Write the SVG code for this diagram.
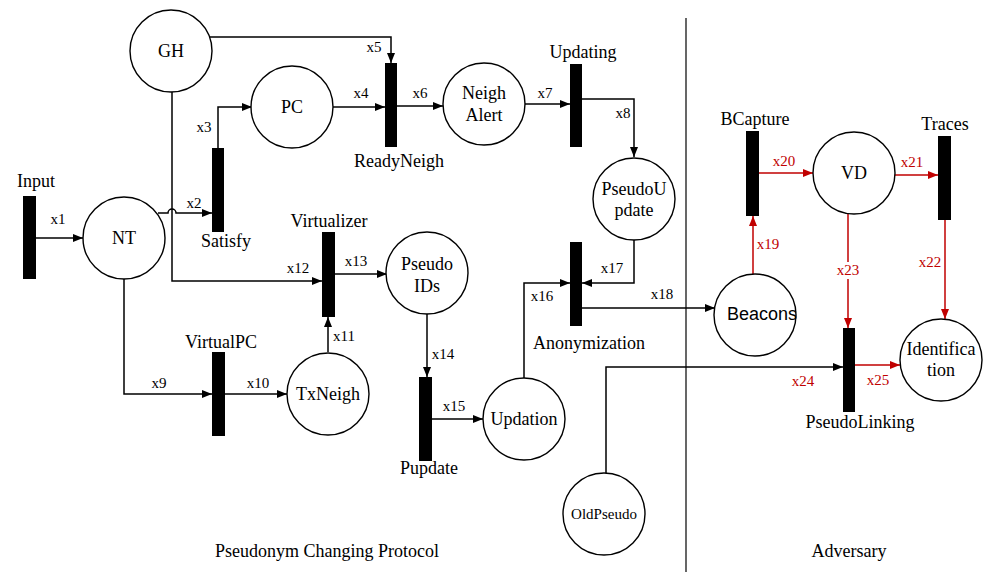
<svg xmlns="http://www.w3.org/2000/svg" width="984" height="572" viewBox="0 0 984 572">
  <style>
    .place { fill: #ffffff; stroke: #000000; stroke-width: 1.4; }
    .bar { fill: #000000; stroke: none; }
    .t { font-family: "Liberation Serif", "Times New Roman", serif; font-size: 18px; fill: #000000; text-anchor: middle; }
    .sans { font-family: "Liberation Sans", Arial, sans-serif; }
    .small { font-size: 15px; }
    .lab { font-family: "Liberation Serif", "Times New Roman", serif; font-size: 15px; fill: #000000; text-anchor: middle; }
    .red { fill: #c00000; }
    .arc { fill: none; stroke: #000000; stroke-width: 1.5; }
    .arc.r { stroke: #c00000; }
  </style>
  <defs>
    <marker id="ah" markerUnits="userSpaceOnUse" markerWidth="10" markerHeight="8" refX="10" refY="4" orient="auto">
      <path d="M0,0 L10,4 L0,8 z" fill="#000000"/>
    </marker>
    <marker id="ahr" markerUnits="userSpaceOnUse" markerWidth="10" markerHeight="8" refX="10" refY="4" orient="auto">
      <path d="M0,0 L10,4 L0,8 z" fill="#c00000"/>
    </marker>
  </defs>
  <rect width="984" height="572" fill="#ffffff"/>

  <!-- divider between protocol and adversary -->
  <line x1="686" y1="18" x2="686" y2="572" stroke="#000000" stroke-width="1.2"/>

  <!-- connectors -->
  <g id="connectors">
    <path class="arc" d="M36,238 H83" marker-end="url(#ah)"/>
    <path class="arc" d="M158,213 H168 A4,4 0 0 1 176,213 H212" marker-end="url(#ah)"/>
    <path class="arc" d="M218,148 V107 H252" marker-end="url(#ah)"/>
    <path class="arc" d="M333,107 H385" marker-end="url(#ah)"/>
    <path class="arc" d="M210,37 H391 V63" marker-end="url(#ah)"/>
    <path class="arc" d="M397,106 H443" marker-end="url(#ah)"/>
    <path class="arc" d="M524,104 H570" marker-end="url(#ah)"/>
    <path class="arc" d="M582,99 H634 V157" marker-end="url(#ah)"/>
    <path class="arc" d="M172,92 V281 H322" marker-end="url(#ah)"/>
    <path class="arc" d="M124,279 V394 H212" marker-end="url(#ah)"/>
    <path class="arc" d="M225,394 H287" marker-end="url(#ah)"/>
    <path class="arc" d="M328,352 V317" marker-end="url(#ah)"/>
    <path class="arc" d="M335,274 H387" marker-end="url(#ah)"/>
    <path class="arc" d="M427,313 V377" marker-end="url(#ah)"/>
    <path class="arc" d="M432,419 H483" marker-end="url(#ah)"/>
    <path class="arc" d="M524,378 V283 H570" marker-end="url(#ah)"/>
    <path class="arc" d="M634,240 V283 H582" marker-end="url(#ah)"/>
    <path class="arc" d="M582,308 H715" marker-end="url(#ah)"/>
    <path class="arc" d="M606,473 V367 H843" marker-end="url(#ah)"/>
    <path class="arc r" d="M753,274 V216" marker-end="url(#ahr)"/>
    <path class="arc r" d="M759,173 H813" marker-end="url(#ahr)"/>
    <path class="arc r" d="M895,175 H938" marker-end="url(#ahr)"/>
    <path class="arc r" d="M848,214 V328" marker-end="url(#ahr)"/>
    <path class="arc r" d="M945,220 V319" marker-end="url(#ahr)"/>
    <path class="arc r" d="M855,365 H900" marker-end="url(#ahr)"/>

    <!-- arc labels -->
    <text class="lab" x="58" y="224">x1</text>
    <text class="lab" x="194" y="208">x2</text>
    <text class="lab" x="204" y="132">x3</text>
    <text class="lab" x="361" y="98">x4</text>
    <text class="lab" x="374" y="52">x5</text>
    <text class="lab" x="420" y="98">x6</text>
    <text class="lab" x="545" y="98">x7</text>
    <text class="lab" x="623" y="118">x8</text>
    <text class="lab" x="159" y="388">x9</text>
    <text class="lab" x="258" y="388">x10</text>
    <text class="lab" x="344" y="341">x11</text>
    <text class="lab" x="298" y="273">x12</text>
    <text class="lab" x="356" y="266">x13</text>
    <text class="lab" x="443" y="359">x14</text>
    <text class="lab" x="454" y="411">x15</text>
    <text class="lab" x="542" y="301">x16</text>
    <text class="lab" x="612" y="273">x17</text>
    <text class="lab" x="662" y="299">x18</text>
    <text class="lab red" x="768" y="249">x19</text>
    <text class="lab red" x="784" y="166">x20</text>
    <text class="lab red" x="912" y="167">x21</text>
    <text class="lab red" x="930" y="267">x22</text>
    <rect x="836" y="262" width="24" height="17" fill="#ffffff"/>
    <text class="lab red" x="848" y="275">x23</text>
    <text class="lab red" x="803" y="386">x24</text>
    <text class="lab red" x="878" y="385">x25</text>
  </g>

  <!-- places -->
  <g id="GH"><circle class="place" cx="171" cy="51" r="41"/><text class="t" x="171" y="57">GH</text></g>
  <g id="NT"><circle class="place" cx="124" cy="238" r="41"/><text class="t" x="124" y="244">NT</text></g>
  <g id="PC"><circle class="place" cx="292" cy="107" r="41"/><text class="t" x="292" y="113">PC</text></g>
  <g id="NeighAlert"><circle class="place" cx="484" cy="104" r="41"/><text class="t" x="484" y="99">Neigh</text><text class="t" x="484" y="121">Alert</text></g>
  <g id="PseudoUpdate"><circle class="place" cx="634" cy="199" r="41"/><text class="t" x="634" y="195">PseudoU</text><text class="t" x="634" y="216">pdate</text></g>
  <g id="PseudoIDs"><circle class="place" cx="427" cy="273" r="41"/><text class="t" x="427" y="270">Pseudo</text><text class="t" x="427" y="292">IDs</text></g>
  <g id="TxNeigh"><circle class="place" cx="328" cy="394" r="41"/><text class="t" x="328" y="400">TxNeigh</text></g>
  <g id="Updation"><circle class="place" cx="524" cy="419" r="41"/><text class="t" x="524" y="425">Updation</text></g>
  <g id="OldPseudo"><circle class="place" cx="604" cy="514" r="41"/><text class="t small" x="604" y="519">OldPseudo</text></g>
  <g id="Beacons"><circle class="place" cx="755" cy="315" r="41"/><text class="t sans" x="762" y="320">Beacons</text></g>
  <g id="VD"><circle class="place" cx="854" cy="173" r="41"/><text class="t" x="854" y="179">VD</text></g>
  <g id="Identification"><circle class="place" cx="941" cy="360" r="41"/><text class="t" x="941" y="355">Identifica</text><text class="t" x="941" y="376">tion</text></g>

  <!-- transitions -->
  <g id="Input"><rect class="bar" x="23" y="196" width="13" height="83"/><text class="t" x="36" y="187">Input</text></g>
  <g id="Satisfy"><rect class="bar" x="212" y="148" width="12" height="84"/><text class="t" x="226" y="247">Satisfy</text></g>
  <g id="ReadyNeigh"><rect class="bar" x="385" y="63" width="12" height="84"/><text class="t" x="399" y="167">ReadyNeigh</text></g>
  <g id="Updating"><rect class="bar" x="570" y="64" width="12" height="83"/><text class="t" x="583" y="58">Updating</text></g>
  <g id="Virtualizer"><rect class="bar" x="322" y="232" width="13" height="85"/><text class="t" x="329" y="227">Virtualizer</text></g>
  <g id="VirtualPC"><rect class="bar" x="212" y="352" width="13" height="84"/><text class="t" x="221" y="348">VirtualPC</text></g>
  <g id="Pupdate"><rect class="bar" x="419" y="377" width="13" height="84"/><text class="t" x="429" y="474">Pupdate</text></g>
  <g id="Anonymization"><rect class="bar" x="570" y="242" width="12" height="84"/><text class="t" x="589" y="349">Anonymization</text></g>
  <g id="BCapture"><rect class="bar" x="746" y="131" width="13" height="85"/><text class="t" x="755" y="125">BCapture</text></g>
  <g id="Traces"><rect class="bar" x="938" y="136" width="13" height="84"/><text class="t" x="945" y="130">Traces</text></g>
  <g id="PseudoLinking"><rect class="bar" x="843" y="328" width="12" height="84"/><text class="t" x="860" y="428">PseudoLinking</text></g>

  <!-- section captions -->
  <text class="t" x="327" y="557">Pseudonym Changing Protocol</text>
  <text class="t" x="849" y="557">Adversary</text>
</svg>
